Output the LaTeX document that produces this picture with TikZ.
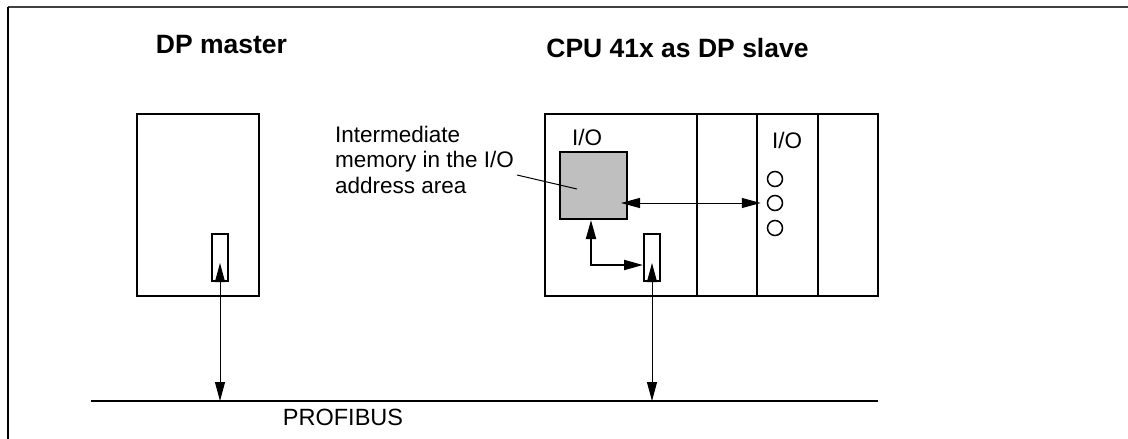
\documentclass[tikz,border=0pt]{standalone}
\usepackage{fontspec}
\setmainfont{Liberation Sans}
\usetikzlibrary{arrows.meta,positioning}
\tikzset{
    box/.style={draw, rectangle, line width=2pt, inner sep=0pt},
    slot/.style={box, outer sep=0pt, minimum height=182pt},
    lbl/.style={font=\fontsize{22.5}{25.5}\selectfont, inner sep=0pt},
    ttl/.style={font=\fontsize{26.5}{30}\selectfont\bfseries, inner sep=0pt},
    tip/.tip={Triangle[length=19pt,width=10pt]},
    dbl/.style={tip-tip, line width=1pt}}

\begin{document}
\begin{tikzpicture}[x=1pt,y=-1pt]
\useasboundingbox (0,0) rectangle (1128,439);
\draw[line width=1.5pt, black!75] (8,7) -- (1128,7);
\draw[line width=1.2pt] (8,7) -- (8,439);

\node[ttl, anchor=base] (t1) at (221.5,53) {DP master};
\node[ttl, anchor=base] (t2) at (677.5,57) {CPU 41x as DP slave};

% master
\node[box, minimum width=122pt, minimum height=182pt] (b1) at (198,205) {};
\node[box, minimum width=16pt, minimum height=47pt] (b2) at (220,257.5) {};

% slave rack
\node[slot, minimum width=152pt] (r1) at (621,205) {};
\node[slot, minimum width=60pt, right=0pt of r1] (r2) {};
\node[slot, minimum width=61pt, right=0pt of r2] (r3) {};
\node[slot, minimum width=60pt, right=0pt of r3] (r4) {};
\node[box, fill=black!25, minimum width=67pt, minimum height=67pt] (g1) at (593.5,185.5) {};
\node[box, minimum width=16pt, minimum height=47pt] (c1) at (652,257.5) {};
\node[lbl, anchor=base] (t3) at (587,145) {I/O};
\node[lbl, anchor=base] (t4) at (787,148) {I/O};
\node[circle, draw, line width=1.5pt, inner sep=0pt, minimum size=15pt] (o1) at (775,179) {};
\node[circle, draw, line width=1.5pt, inner sep=0pt, minimum size=15pt] (o2) at (775,203) {};
\node[circle, draw, line width=1.5pt, inner sep=0pt, minimum size=15pt] (o3) at (775,228) {};

\node[lbl, anchor=north west, align=left] (t5) at (335,125.6) {Intermediate\\memory in the I/O\\address area};
\coordinate (p5) at (517,175);
\draw[line width=1pt] (p5) -- ([xshift=-16.5pt,yshift=-3.5pt]g1.center);

% bus
\coordinate (q1) at (91,401);
\coordinate (q2) at (878,401);
\draw[line width=2pt] (q1) -- (q2);
\node[lbl, font=\fontsize{23.5}{26}\selectfont, anchor=base] (t6) at (343,425) {PROFIBUS};

\draw[dbl] (b2 |- q1) -- ([yshift=-5.5pt]b2.center);
\draw[dbl] (c1 |- q1) -- ([yshift=-5.5pt]c1.center);
\draw[dbl, shorten <=-7pt, shorten >=6pt] (g1.east |- o2) -- (o2.west);
\coordinate (p3) at (591,265);
\draw[dbl, line width=2pt] (g1.south -| p3) -- (p3) -- (p3 -| c1.west);
\end{tikzpicture}
\end{document}
